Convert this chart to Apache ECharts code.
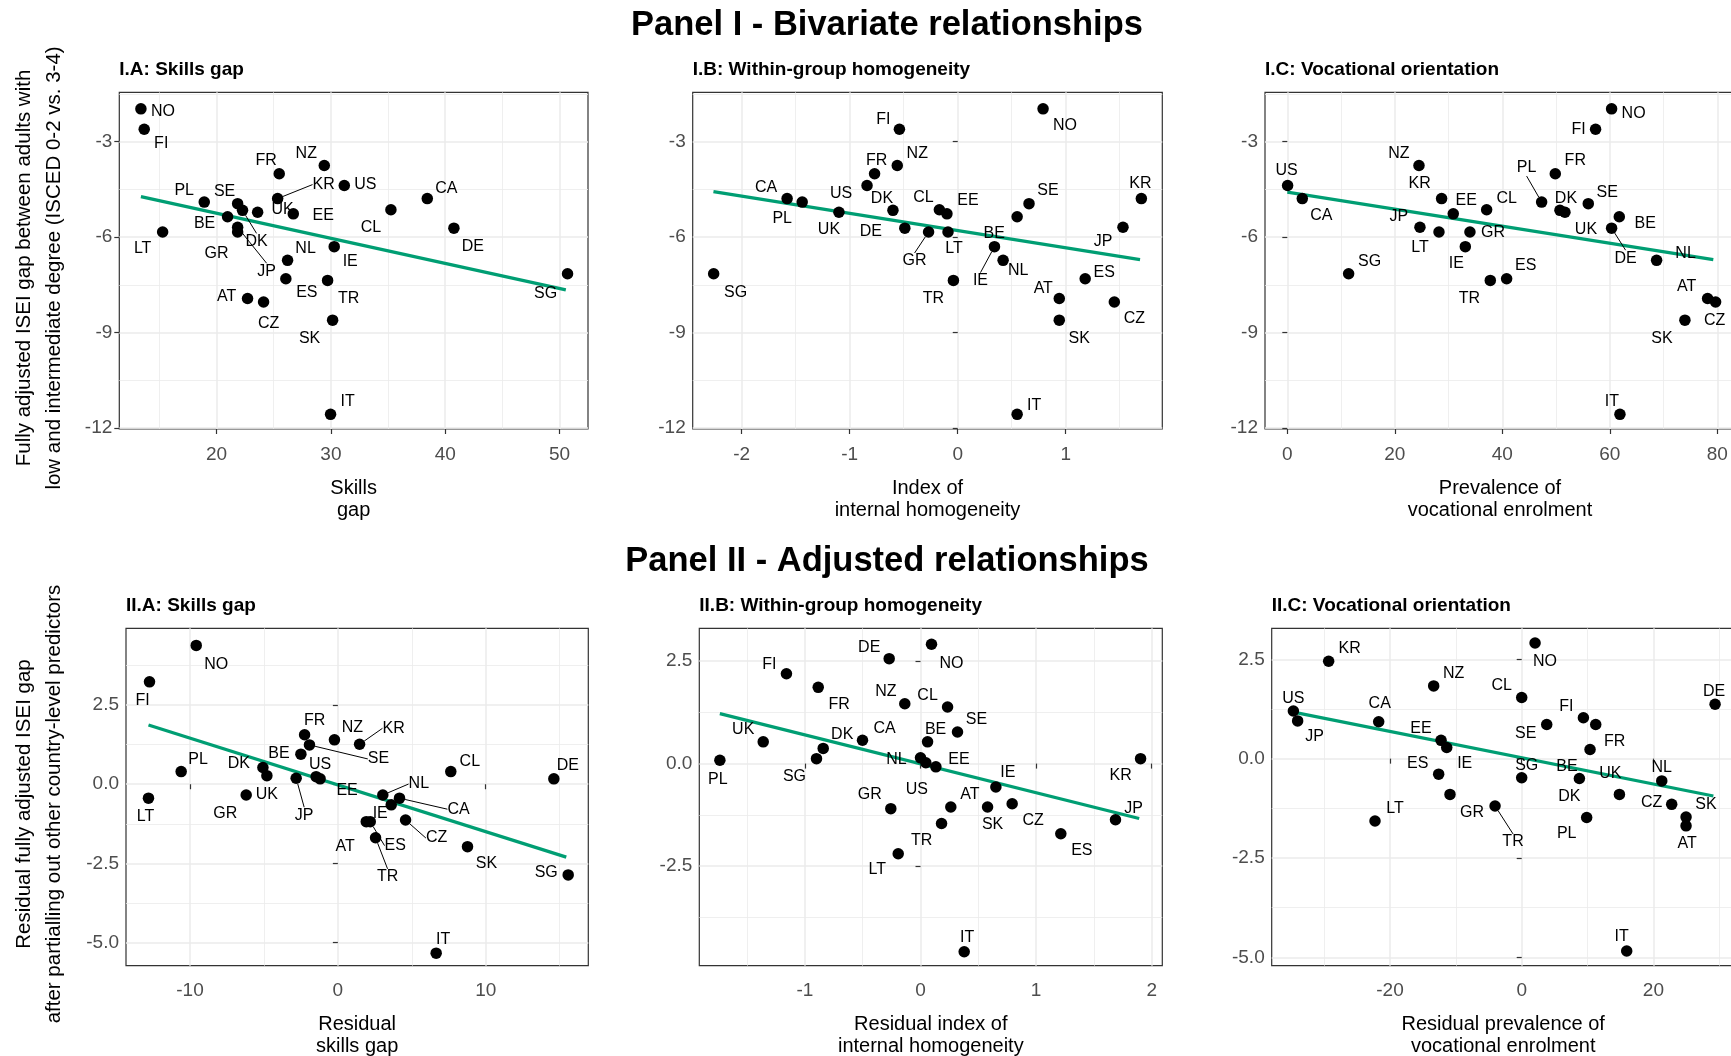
<!DOCTYPE html>
<html>
<head>
<meta charset="utf-8">
<script src="https://cdn.jsdelivr.net/npm/echarts@6/dist/echarts.min.js"></script>
<style>html,body{margin:0;padding:0;background:#fff}#c{width:1731px;height:1056px}</style>
</head>
<body>
<div id="c"></div>
<script>
// ---------------- DATA ----------------
const countries = ['NO','FI','FR','NZ','KR','US','CA','PL','SE','CL','DK','UK','BE','EE','DE','LT','GR','JP','IE','NL','TR','ES','AT','CZ','SK','SG','IT'];

// Panel I: fully adjusted ISEI gap (shared y)
const gapAdjusted = [-1.97,-2.61,-4.01,-3.75,-4.79,-4.38,-4.79,-4.90,-4.95,-5.14,-5.16,-5.22,-5.36,-5.27,-5.72,-5.84,-5.84,-5.69,-6.30,-6.73,-7.36,-7.31,-7.93,-8.04,-8.61,-7.15,-11.57];
const skillsGap = [13.38,13.67,25.48,29.42,25.34,31.17,38.43,18.92,21.84,35.25,22.27,23.59,20.96,26.71,40.76,15.28,21.84,21.84,30.29,26.21,29.71,26.06,22.71,24.11,30.15,50.70,29.97];
const homogeneity = [0.79,-0.54,-0.77,-0.56,1.70,-0.84,-1.58,-1.44,0.66,-0.17,-0.60,-1.10,0.55,-0.10,-0.49,-0.09,-0.27,1.53,0.34,0.42,-0.04,1.18,0.94,1.45,0.94,-2.26,0.55];
const vocational = [60.34,57.36,49.86,24.50,28.71,0.06,2.79,47.32,56.00,37.09,50.73,51.66,61.77,30.88,60.34,28.22,33.98,24.68,33.12,68.71,37.77,40.81,78.20,79.69,73.98,11.41,61.89];

// Panel II: residuals
const resSkillsX = [-9.58,-12.74,-2.25,-0.23,1.47,-1.47,4.17,-10.60,-1.92,7.64,-5.07,-4.80,-2.50,-1.20,14.61,-12.81,-6.20,-2.82,3.61,3.04,2.55,2.19,1.92,4.58,8.77,15.58,6.65];
const resSkillsY = [4.38,3.23,1.56,1.40,1.26,0.24,-0.44,0.40,1.24,0.40,0.53,0.27,0.95,0.17,0.17,-0.44,-0.34,0.19,-0.65,-0.34,-1.69,-1.18,-1.18,-1.13,-1.97,-2.86,-5.33];
const resHomX = [0.095,-1.16,-0.885,-0.136,1.904,0.046,-0.502,-1.736,0.32,0.234,-0.842,-1.361,0.061,0.133,-0.271,-0.193,-0.257,1.687,0.652,0.0,0.182,1.214,0.262,0.793,0.58,-0.90,0.378];
const resHomY = [2.91,2.19,1.86,1.46,0.12,0.02,0.57,0.08,0.77,1.38,0.37,0.53,0.53,-0.08,2.56,-2.20,-1.10,-1.37,-0.57,0.14,-1.46,-1.71,-1.06,-0.98,-1.06,0.12,-4.59];
const resVocX = [2.03,9.37,11.24,-13.37,-29.32,-34.68,-21.72,9.87,3.80,0.0,8.76,14.84,10.38,-12.25,29.37,-22.28,-10.89,-34.03,-11.39,21.27,-4.05,-12.61,24.96,22.78,24.96,0.0,15.95];
const resVocY = [2.91,1.03,0.86,1.83,2.45,1.20,0.93,-1.48,0.86,1.54,-0.50,-0.90,0.23,0.46,1.37,-1.57,-0.90,0.95,0.28,-0.56,-1.19,-0.39,-1.69,-1.15,-1.47,-0.48,-4.84];

// Fitted lines (endpoints)
const fitIA = [[13.38,-4.73],[50.55,-7.66]];
const fitIB = [[-2.262,-4.57],[1.688,-6.71]];
const fitIC = [[0.0,-4.59],[79.26,-6.71]];
const fitIIA = [[-12.81,1.87],[15.45,-2.30]];
const fitIIB = [[-1.736,1.22],[1.892,-1.34]];
const fitIIC = [[-34.68,1.17],[29.11,-0.94]];

// Tick values
const xTicksIA = [20,30,40,50], xMinorIA = [15,25,35,45];
const xTicksIB = [-2,-1,0,1], xMinorIB = [-1.5,-0.5,0.5,1.5];
const xTicksIC = [0,20,40,60,80], xMinorIC = [10,30,50,70];
const yTicksI = [-12,-9,-6,-3], yMinorI = [-10.5,-7.5,-4.5,-1.5];
const xTicksIIA = [-10,0,10], xMinorIIA = [-5,5,15];
const yTicksIIA = [-5,-2.5,0,2.5], yMinorIIA = [-3.75,-1.25,1.25,3.75];
const xTicksIIB = [-1,0,1,2], xMinorIIB = [-1.5,-0.5,0.5,1.5];
const yTicksIIB = [-2.5,0,2.5], yMinorIIB = [-3.75,-1.25,1.25];
const xTicksIIC = [-20,0,20], xMinorIIC = [-30,-10,10,30];
const yTicksIIC = [-5,-2.5,0,2.5], yMinorIIC = [-3.75,-1.25,1.25];

// ---------------- LAYOUT (label offsets in px, leader lines) ----------------
const offIA = {NO:[22,3],FI:[17,14],FR:[-13,-13],NZ:[-18,-12],KR:[46,-14],US:[21,-1],CA:[19,-10],PL:[-20,-11],SE:[-13,-12],CL:[-20,18],DK:[14,31],UK:[25,-3],BE:[-23,7],EE:[30,2],DE:[19,18],LT:[-20,17],GR:[-21,22],JP:[29,44],IE:[16,15],NL:[18,-12],TR:[21,18],ES:[21,14],AT:[-21,-2],CZ:[5,22],SK:[-23,18],SG:[-22,20],IT:[17,-13]};
const offIB = {SG:[22,19],CA:[-21,-11],PL:[-20,17],UK:[-10,17],US:[-26,8],FR:[2,-13],NZ:[20,-12],FI:[-16,-10],DK:[-11,-12],DE:[-34,3],GR:[-14,29],CL:[-16,-12],EE:[21,-13],LT:[6,17],TR:[-20,18],BE:[-23,17],SE:[19,-13],IE:[-14,34],NL:[15,10],NO:[22,17],AT:[-16,-10],SK:[20,18],ES:[19,-6],CZ:[20,17],JP:[-20,14],KR:[-1,-15],IT:[17,-9]};
const offIC = {NO:[22,5],FI:[-17,0],NZ:[-20,-12],US:[-1,-15],FR:[20,-13],PL:[-15,-34],KR:[-22,-15],CA:[19,17],EE:[13,-13],CL:[20,-11],DK:[6,-12],UK:[21,17],SE:[19,-11],BE:[26,7],DE:[14,30],JP:[-21,-11],LT:[-19,16],GR:[23,1],IE:[-9,17],SG:[21,-12],TR:[-21,18],ES:[19,-13],NL:[29,-7],AT:[-21,-12],CZ:[-1,19],SK:[-23,18],IT:[-8,-13]};
const offIIA = {NO:[20,19],FI:[-7,19],PL:[17,-12],LT:[-3,18],DK:[-24,-4],UK:[0,19],GR:[-21,19],FR:[10,-14],SE:[69,14],BE:[-22,-1],JP:[8,37],US:[4,-12],EE:[27,12],NZ:[18,-12],KR:[34,-16],NL:[36,-11],CA:[59,11],IE:[-11,9],AT:[-21,25],ES:[25,24],TR:[12,39],CZ:[31,18],CL:[19,-10],SK:[19,17],DE:[14,-13],SG:[-22,-2],IT:[7,-14]};
const offIIB = {PL:[-2,19],UK:[-20,-12],FI:[-17,-9],FR:[21,17],SG:[-22,18],DK:[19,-14],CA:[22,-12],DE:[-20,-11],NO:[20,19],NZ:[-19,-12],CL:[-20,-11],SE:[19,-12],BE:[8,-12],NL:[-24,2],US:[-9,27],EE:[23,-7],GR:[-21,-14],LT:[-21,16],TR:[-20,17],AT:[19,-12],IE:[12,-14],SK:[5,18],CZ:[21,17],ES:[21,17],JP:[18,-11],KR:[-20,17],IT:[3,-14]};
const offIIC = {KR:[21,-13],US:[0,-12],JP:[17,16],CA:[1,-18],LT:[20,-12],NZ:[20,-12],EE:[-20,-12],IE:[18,16],ES:[-21,-11],GR:[22,18],TR:[18,36],CL:[-20,-12],NO:[10,19],SE:[-21,9],SG:[5,-12],FI:[-17,-11],FR:[19,17],BE:[-23,17],DK:[-10,18],PL:[-20,16],UK:[-9,-21],NL:[0,-13],CZ:[-20,-2],SK:[20,-12],AT:[1,18],DE:[-1,-13],IT:[-5,-14]};

const FONT = '"Liberation Sans", Arial, Helvetica, sans-serif';
const GREEN = '#009E73';

const panels = [
  {rect:[119.3,92.3,468.7,336.7], xr:[11.49,52.49], yr:[-12.03,-1.45], xt:xTicksIA, xm:xMinorIA, yt:yTicksI, ym:yMinorI, xs:skillsGap, ys:gapAdjusted, fit:fitIA, off:offIA, lead:['KR','DK','JP'], title:'I.A: Skills gap', xName:'Skills\ngap', dec:0},
  {rect:[692.7,92.3,469.6,336.7], xr:[-2.454,1.894], yr:[-12.03,-1.45], xt:xTicksIB, xm:xMinorIB, yt:yTicksI, ym:yMinorI, xs:homogeneity, ys:gapAdjusted, fit:fitIB, off:offIB, lead:['GR','IE'], title:'I.B: Within-group homogeneity', xName:'Index of\ninternal homogeneity', dec:0},
  {rect:[1265,92.3,470,336.7], xr:[-4.15,83.3], yr:[-12.03,-1.45], xt:xTicksIC, xm:xMinorIC, yt:yTicksI, ym:yMinorI, xs:vocational, ys:gapAdjusted, fit:fitIC, off:offIC, lead:['PL','DE'], title:'I.C: Vocational orientation', xName:'Prevalence of\nvocational enrolment', dec:0},
  {rect:[126,628.3,462.3,337.4], xr:[-14.33,16.94], yr:[-5.725,4.92], xt:xTicksIIA, xm:xMinorIIA, yt:yTicksIIA, ym:yMinorIIA, xs:resSkillsX, ys:resSkillsY, fit:fitIIA, off:offIIA, lead:['SE','JP','KR','NL','CA','ES','TR','CZ'], title:'II.A: Skills gap', xName:'Residual\nskills gap', dec:1},
  {rect:[699.3,628.3,463,337.4], xr:[-1.914,2.092], yr:[-4.93,3.30], xt:xTicksIIB, xm:xMinorIIB, yt:yTicksIIB, ym:yMinorIIB, xs:resHomX, ys:resHomY, fit:fitIIB, off:offIIB, lead:[], title:'II.B: Within-group homogeneity', xName:'Residual index of\ninternal homogeneity', dec:1},
  {rect:[1271.7,628.3,463,337.4], xr:[-37.97,32.35], yr:[-5.21,3.28], xt:xTicksIIC, xm:xMinorIIC, yt:yTicksIIC, ym:yMinorIIC, xs:resVocX, ys:resVocY, fit:fitIIC, off:offIIC, lead:['TR'], title:'II.C: Vocational orientation', xName:'Residual prevalence of\nvocational enrolment', dec:1}
];

const grids = [], xAxes = [], yAxes = [], series = [], graphics = [];

panels.forEach((p, i) => {
  grids.push({left:p.rect[0], top:p.rect[1], width:p.rect[2], height:p.rect[3],
    show:true, borderColor:'#333333', borderWidth:1.2, backgroundColor:'rgba(0,0,0,0)',
    containLabel:false, outerBoundsMode:'none'});
  const dec = p.dec;
  xAxes.push({type:'value', gridIndex:i, position:'bottom', min:p.xr[0], max:p.xr[1],
    axisLine:{show:false},
    axisTick:{show:true, length:5, customValues:p.xt, lineStyle:{color:'#333333', width:1.2}},
    axisLabel:{show:true, customValues:p.xt, color:'#4D4D4D', fontSize:19, fontFamily:FONT, margin:16,
      formatter:v => String(v)},
    splitLine:{show:true, lineStyle:{color:'#EBEBEB', width:1.5}}});
  xAxes.push({type:'value', gridIndex:i, position:'bottom', min:p.xr[0], max:p.xr[1],
    axisLine:{show:false}, axisTick:{show:false, customValues:p.xm}, axisLabel:{show:false},
    splitLine:{show:true, lineStyle:{color:'#EBEBEB', width:0.8}}});
  yAxes.push({type:'value', gridIndex:i, position:'left', min:p.yr[0], max:p.yr[1],
    axisLine:{show:false},
    axisTick:{show:true, length:5, customValues:p.yt, lineStyle:{color:'#333333', width:1.2}},
    axisLabel:{show:true, customValues:p.yt, color:'#4D4D4D', fontSize:19, fontFamily:FONT, margin:7,
      formatter:v => dec ? Number(v).toFixed(1) : String(v)},
    splitLine:{show:true, lineStyle:{color:'#EBEBEB', width:1.5}}});
  yAxes.push({type:'value', gridIndex:i, position:'left', min:p.yr[0], max:p.yr[1],
    axisLine:{show:false}, axisTick:{show:false, customValues:p.ym}, axisLabel:{show:false},
    splitLine:{show:true, lineStyle:{color:'#EBEBEB', width:0.8}}});

  series.push({type:'line', xAxisIndex:2*i, yAxisIndex:2*i, data:p.fit, showSymbol:false, symbol:'none',
    silent:true, animation:false, z:2, lineStyle:{color:GREEN, width:3.3, opacity:1}});

  const off = p.off;
  series.push({type:'scatter', xAxisIndex:2*i, yAxisIndex:2*i, symbol:'circle', symbolSize:11.5,
    silent:true, animation:false, z:3,
    itemStyle:{color:'#000000', opacity:1},
    label:{show:true, position:'inside', formatter:'{b}', color:'#000000', fontSize:16, fontFamily:FONT},
    labelLine:{show:false, lineStyle:{color:'#000000', width:1}},
    labelLayout: params => { const o = off[countries[params.dataIndex]] || [0,-14]; return {dx:o[0], dy:o[1]}; },
    data: countries.map((c, k) => {
      const d = {name:c, value:[p.xs[k], p.ys[k]]};
      if (p.lead.indexOf(c) >= 0) d.labelLine = {show:true, lineStyle:{color:'#000000', width:1}};
      return d;
    })});

  graphics.push({type:'text', x:p.rect[0], y:p.rect[1] - 23, silent:true,
    style:{text:p.title, fontSize:19, fontWeight:'bold', fontFamily:FONT, fill:'#000', align:'left', verticalAlign:'middle'}});
  graphics.push({type:'text', x:p.rect[0] + p.rect[2] / 2, y:p.rect[1] + p.rect[3] + 70, silent:true,
    style:{text:p.xName, fontSize:20, fontFamily:FONT, fill:'#000', align:'center', verticalAlign:'middle', lineHeight:22}});
});

graphics.push({type:'text', x:887, y:25, silent:true,
  style:{text:'Panel I - Bivariate relationships', fontSize:34.5, fontWeight:'bold', fontFamily:FONT, fill:'#000', align:'center', verticalAlign:'middle'}});
graphics.push({type:'text', x:887, y:561, silent:true,
  style:{text:'Panel II - Adjusted relationships', fontSize:34.5, fontWeight:'bold', fontFamily:FONT, fill:'#000', align:'center', verticalAlign:'middle'}});
graphics.push({type:'text', x:39.5, y:268, rotation:Math.PI/2, silent:true,
  style:{text:'Fully adjusted ISEI gap between adults with\nlow and intermediate degree (ISCED 0-2 vs. 3-4)', fontSize:20.5, fontFamily:FONT, fill:'#000', align:'center', verticalAlign:'middle', lineHeight:30}});
graphics.push({type:'text', x:39.5, y:804, rotation:Math.PI/2, silent:true,
  style:{text:'Residual fully adjusted ISEI gap\nafter partialling out other country-level predictors', fontSize:20.5, fontFamily:FONT, fill:'#000', align:'center', verticalAlign:'middle', lineHeight:30}});

const chart = echarts.init(document.getElementById('c'), null, {renderer:'canvas', width:1731, height:1056});
chart.setOption({
  backgroundColor:'#ffffff',
  animation:false,
  textStyle:{fontFamily:FONT},
  grid:grids, xAxis:xAxes, yAxis:yAxes, series:series, graphic:graphics
});
</script>
</body>
</html>
